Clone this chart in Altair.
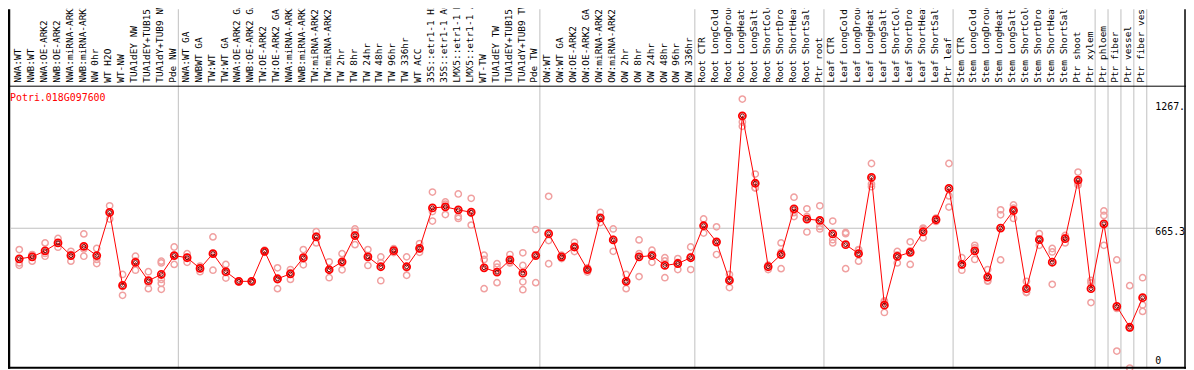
import altair as alt
import pandas as pd

# ---------------- data ----------------
gene = "Potri.018G097600"

categories = [
    "NWA:WT", "NWB:WT", "NWA:OE-ARK2", "NWB:OE-ARK2", "NWA:miRNA-ARK2", "NWB:miRNA-ARK2",
    "NW 0hr", "WT H2O", "WT-NW", "TUA1dEY NW", "TUA1dEY+TUB15 NW", "TUA1dY+TUB9 NW", "Pde NW",
    "NWA:WT GA", "NWBWT GA", "TW:WT", "TW:WT GA", "NWA:OE-ARK2 GA", "NWB:OE-ARK2 GA",
    "TW:OE-ARK2", "TW:OE-ARK2 GA", "NWA:miRNA-ARK2 GA", "NWB:miRNA-ARK2 GA", "TW:miRNA-ARK2",
    "TW:miRNA-ARK2", "TW 2hr", "TW 8hr", "TW 24hr", "TW 48hr", "TW 96hr", "TW 336hr", "WT ACC",
    "35S::etr1-1 H2O", "35S::etr1-1 ACC", "LMX5::etr1-1 H2O", "LMX5::etr1-1 ACC", "WT-TW",
    "TUA1dEY TW", "TUA1dEY+TUB15 TW", "TUA1dY+TUB9 TW", "Pde TW",
    "OW:WT", "OW:WT GA", "OW:OE-ARK2", "OW:OE-ARK2 GA", "OW:miRNA-ARK2", "OW:miRNA-ARK2",
    "OW 2hr", "OW 8hr", "OW 24hr", "OW 48hr", "OW 96hr", "OW 336hr",
    "Root CTR", "Root LongCold", "Root LongDrought", "Root LongHeat", "Root LongSalt",
    "Root ShortCold", "Root ShortDrought", "Root ShortHeat", "Root ShortSalt", "Ptr root",
    "Leaf CTR", "Leaf LongCold", "Leaf LongDrought", "Leaf LongHeat", "Leaf LongSalt",
    "Leaf ShortCold", "Leaf ShortDrought", "Leaf ShortHeat", "Leaf ShortSalt", "Ptr leaf",
    "Stem CTR", "Stem LongCold", "Stem LongDrought", "Stem LongHeat", "Stem LongSalt",
    "Stem ShortCold", "Stem ShortDrought", "Stem ShortHeat", "Stem ShortSalt", "Ptr shoot",
    "Ptr xylem", "Ptr phloem", "Ptr fiber", "Ptr vessel", "Ptr fiber vessel",
]

means = [
    523, 532, 560, 597, 538, 581, 538, 739, 399, 506, 421, 450, 538,
    528, 478, 547, 463, 418, 418, 558, 430, 453, 528, 625, 472, 509, 631, 532, 486, 561,
    486, 572, 760, 765, 751, 740, 481, 461, 518, 456, 538,
    640, 532, 578, 473, 714, 611, 418, 532, 538, 492, 501, 528,
    677, 602, 422, 1189, 875, 486, 543, 756, 708, 702,
    639, 589, 547, 902, 307, 534, 553, 649, 705, 851,
    497, 560, 438, 666, 748, 384, 612, 507, 617, 890, 384,
    686, 301, 204, 342,
]

replicates = [
    [566, 504, 493], [543, 512, 541], [597, 535, 548], [618, 577, 596], [558, 512, 544],
    [639, 535, 569], [571, 520, 501], [770, 708, 739], [450, 353, 394], [535, 470, 513],
    [463, 384, 412], [512, 504, 427, 409, 381], [578, 497, 539],
    [547, 507, 530], [489, 463, 482], [625, 470, 546], [497, 433, 459], [418, 416, 420],
    [418, 420, 416], [553, 563, 558], [481, 384, 425], [473, 427, 459], [566, 495, 523],
    [649, 597, 629], [509, 435, 472], [547, 472, 508], [662, 651, 589], [566, 492, 538],
    [532, 421, 505], [552, 561, 570], [532, 446, 480], [594, 553, 569], [834, 743, 699],
    [788, 729, 778], [825, 720, 711], [805, 680, 735], [540, 520, 384], [500, 484, 412],
    [543, 504, 507], [551, 492, 416, 379], [659, 412, 543],
    [814, 608, 500], [540, 524, 532], [600, 557, 577], [481, 461, 477], [739, 692, 711],
    [662, 558, 613], [450, 384, 420], [611, 547, 440], [563, 507, 544], [528, 435, 513],
    [524, 473, 506], [578, 473, 533],
    [709, 643, 679], [672, 597, 543], [450, 389, 427], [1267, 1160, 1140], [918, 854, 853],
    [493, 473, 492], [597, 553, 477], [810, 720, 738], [756, 648, 720], [770, 674, 662],
    [699, 612, 597], [646, 640, 477], [566, 512, 563], [967, 871, 859], [327, 273, 321],
    [557, 504, 541], [602, 497, 560], [666, 620, 661], [713, 697, 705], [967, 816, 764],
    [528, 470, 493], [586, 520, 574], [473, 419, 422], [751, 728, 518], [774, 759, 711],
    [418, 368, 366], [640, 586, 610], [571, 555, 404], [632, 597, 622], [927, 867, 876],
    [422, 319, 411],
    [746, 725, 586], [518, 93, 292], [398, 14, 200], [435, 308, 278],
]

group_breaks = [0, 13, 41, 53, 63, 73, 84, 85, 86, 87, 88]
grid_value = [665.3]
y_tick_values = [1267.24, 665.3, 0]
y_tick_labels = ["1267.", "665.3", "0"]

# ---------------- tables ----------------
PT_OFF = 0.68
LBL_OFF = 0.58
mean_df = pd.DataFrame({
    "pos": [i + PT_OFF for i in range(len(categories))],
    "lpos": [i + LBL_OFF for i in range(len(categories))],
    "value": means,
    "cat": categories,
})
rep_rows = []
for i, reps in enumerate(replicates):
    for r in reps:
        rep_rows.append({"pos": i + PT_OFF, "value": r})
rep_df = pd.DataFrame(rep_rows)
sep_df = pd.DataFrame({"b": group_breaks})
grid_df = pd.DataFrame({"v": grid_value})
one = pd.DataFrame({"k": [0]})

W, H = 1186, 362
x_scale = alt.Scale(domain=[-2.5 / 13, (W - 2.5) / 13], nice=False, zero=False)
y_scale = alt.Scale(domain=[10.643, 1685.79], nice=False, zero=False)
MONO = "DejaVu Sans Mono"

X = alt.X("pos:Q", scale=x_scale, axis=None)
Y = alt.Y("value:Q", scale=y_scale, axis=None)

seps = alt.Chart(sep_df).mark_rule(color="#C0C0C0", strokeWidth=1).encode(
    x=alt.X("b:Q", scale=x_scale, axis=None), y=alt.value(0), y2=alt.value(H)
)
hgrid = alt.Chart(grid_df).mark_rule(color="#C0C0C0", strokeWidth=1).encode(
    y=alt.Y("v:Q", scale=y_scale, axis=None), x=alt.value(0), x2=alt.value(1155)
)
top_line = alt.Chart(one).mark_rule(color="black", strokeWidth=1).encode(
    x=alt.value(0), x2=alt.value(W), y=alt.value(77.5)
)
bottom_line = alt.Chart(one).mark_rule(color="black", strokeWidth=2).encode(
    x=alt.value(0), x2=alt.value(W), y=alt.value(361)
)
left_line = alt.Chart(one).mark_rule(color="black", strokeWidth=2).encode(
    x=alt.value(1), y=alt.value(0), y2=alt.value(H)
)
right_line = alt.Chart(one).mark_rule(color="black", strokeWidth=1.5).encode(
    x=alt.value(1185), y=alt.value(0), y2=alt.value(H)
)

cat_labels = alt.Chart(mean_df).mark_text(
    angle=270, align="left", baseline="middle", font=MONO, fontSize=9.5, color="black"
).encode(
    x=alt.X("lpos:Q", scale=x_scale, axis=None), y=alt.value(74), text="cat:N"
)
gene_label = alt.Chart(one).mark_text(
    align="left", baseline="middle", font=MONO, fontSize=10, color="red"
).encode(x=alt.value(2), y=alt.value(89), text=alt.value(gene))

tick_df = pd.DataFrame({"v": y_tick_values, "t": y_tick_labels})
def tick_layer(idx, dy):
    return alt.Chart(tick_df.iloc[[idx]]).mark_text(
        align="left", baseline="middle", font=MONO, fontSize=10, color="black", dy=dy
    ).encode(x=alt.value(1155), y=alt.Y("v:Q", scale=y_scale, axis=None), text="t:N")

reps_layer = alt.Chart(rep_df).mark_point(
    shape="circle", filled=False, color="#F0A0A0", size=40, strokeWidth=1.5, opacity=1
).encode(x=X, y=Y)
line_layer = alt.Chart(mean_df).mark_line(color="red", strokeWidth=1).encode(x=X, y=Y)
mean_outer = alt.Chart(mean_df).mark_point(
    shape="circle", filled=False, color="red", size=50, strokeWidth=1.8, opacity=1
).encode(x=X, y=Y)
mean_inner = alt.Chart(mean_df).mark_point(
    shape="circle", filled=False, color="#700000", size=15, strokeWidth=1, opacity=1
).encode(x=X, y=Y)

chart = alt.layer(
    seps, hgrid, reps_layer, line_layer, mean_outer, mean_inner,
    cat_labels, gene_label, tick_layer(0, 8), tick_layer(1, 4), tick_layer(2, -10),
    top_line, bottom_line, left_line, right_line,
).properties(
    width=W, height=H, autosize=alt.AutoSizeParams(type="none"), padding=0,
    background="white",
).configure_view(stroke=None)

chart.save("out.html", embed_options={"renderer": "svg", "actions": False})
